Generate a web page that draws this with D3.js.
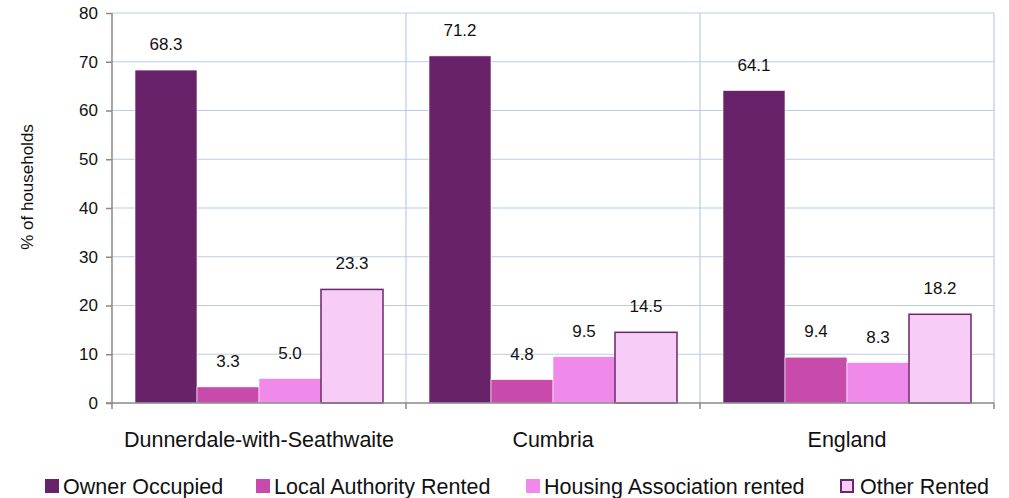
<!DOCTYPE html>
<html><head><meta charset="utf-8">
<script src="https://cdn.jsdelivr.net/npm/d3@7"></script>
<style>body{margin:0;background:#fff}svg{display:block;font-family:"Liberation Sans",Arial,sans-serif}</style>
</head><body><svg id="c" width="1009" height="498"></svg>
<script>
const categories = ["Dunnerdale-with-Seathwaite","Cumbria","England"];
const seriesNames = ["Owner Occupied","Local Authority Rented","Housing Association rented","Other Rented"];
const ownerOccupied = [68.3,71.2,64.1];
const localAuthority = [3.3,4.8,9.4];
const housingAssoc = [5.0,9.5,8.3];
const otherRented = [23.3,14.5,18.2];
const yTicks = [0,10,20,30,40,50,60,70,80];
const colors = ["#68226a","#c84aaa","#ef8aeb","#f7ccf6"];
const series = [ownerOccupied,localAuthority,housingAssoc,otherRented];

const svg = d3.select("#c");
const L=112,R=994,T=13,B=403;
const x0 = d3.scaleBand().domain(categories).range([L,R]).paddingInner(0).paddingOuter(0);
const x1 = d3.scaleBand().domain(seriesNames).range([0,x0.bandwidth()]).paddingInner(0).paddingOuter(0.371);
const y = d3.scaleLinear().domain([0,80]).range([B,T]);

// horizontal grid
svg.append("g").selectAll("line").data(yTicks.slice(1)).join("line")
  .attr("x1",L).attr("x2",R).attr("y1",d=>y(d)).attr("y2",d=>y(d))
  .attr("stroke","#b9cde5").attr("stroke-width",1.2);
// vertical grid at category boundaries
const bounds = categories.map(c=>x0(c)+x0.bandwidth());
svg.append("g").selectAll("line").data(bounds).join("line")
  .attr("x1",d=>d).attr("x2",d=>d).attr("y1",T).attr("y2",B)
  .attr("stroke","#b9cde5").attr("stroke-width",1.2);

// bars
const g = svg.append("g");
categories.forEach((c,ci)=>{
  seriesNames.forEach((s,si)=>{
    const v = series[si][ci];
    const bx = x0(c)+x1(s), bw = x1.bandwidth();
    g.append("rect").attr("x",bx).attr("y",y(v)).attr("width",bw).attr("height",B-y(v))
      .attr("fill",colors[si])
      .attr("stroke", si===3 ? "#6d2668" : "#ffffff")
      .attr("stroke-width", si===3 ? 1.5 : 0.6);
    g.append("text").attr("x",bx+bw/2).attr("y",y(v)-20).attr("text-anchor","middle")
      .attr("font-size",17).attr("fill","#111").text(v.toFixed(1));
  });
});

// y axis
const ya = svg.append("g").attr("transform",`translate(${L},0)`)
  .call(d3.axisLeft(y).tickValues(yTicks).tickSize(6).tickPadding(8));
ya.select(".domain").attr("stroke","#888").attr("stroke-width",1.5).attr("d",`M0,${T}V${B}`);
ya.selectAll(".tick line").attr("stroke","#888").attr("stroke-width",1.5);
ya.selectAll(".tick text").attr("font-size",17).attr("fill","#111").attr("font-family","Liberation Sans, Arial, sans-serif");

// x axis
svg.append("line").attr("x1",L-6).attr("x2",R).attr("y1",B).attr("y2",B).attr("stroke","#888").attr("stroke-width",1.5);
svg.append("g").selectAll("line").data([L].concat(bounds)).join("line")
  .attr("x1",d=>d).attr("x2",d=>d).attr("y1",B).attr("y2",B+6).attr("stroke","#888").attr("stroke-width",1.5);
svg.append("g").selectAll("text").data(categories).join("text")
  .attr("x",d=>x0(d)+x0.bandwidth()/2).attr("y",447).attr("text-anchor","middle")
  .attr("font-size",21.5).attr("fill","#111").text(d=>d);

// y title
svg.append("text").attr("transform","translate(33,187) rotate(-90)").attr("text-anchor","middle")
  .attr("font-size",17).attr("fill","#111").text("% of households");

// legend
const legX = [45,256,526,840];
const lg = svg.append("g");
seriesNames.forEach((s,i)=>{
  lg.append("rect").attr("x",legX[i]+(i===3?1:0)).attr("y",479+(i===3?1:0))
    .attr("width",i===3?12:14).attr("height",i===3?12:14)
    .attr("fill",colors[i]).attr("stroke",i===3?"#6d2668":"none").attr("stroke-width",2);
  lg.append("text").attr("x",legX[i]+(i===3?20:18)).attr("y",494).attr("font-size",21.5).attr("fill","#111").text(s);
});
</script></body></html>
